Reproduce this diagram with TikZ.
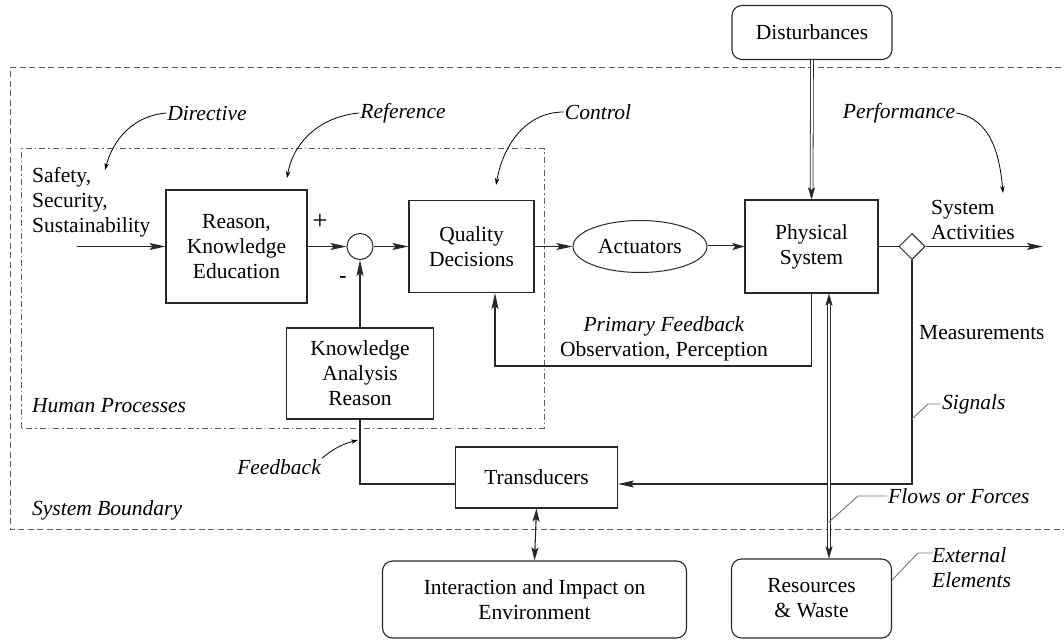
\documentclass[tikz,border=0pt]{standalone}
\usepackage{fontspec}
\setmainfont{Liberation Serif}
\usetikzlibrary{positioning}
\usetikzlibrary{arrows.meta}
\usetikzlibrary{shapes.geometric}
\usetikzlibrary{decorations.markings}
\tikzset{block/.style={draw=mline, line width=1.1pt, align=center, inner sep=2pt}}
\definecolor{mline}{RGB}{40,40,40}
\definecolor{mframe}{RGB}{95,95,95}

\begin{document}
\begin{tikzpicture}[x=1pt, y=1pt, node distance=100pt,
    font=\fontsize{21.5}{25}\selectfont,
    rbox/.style={block, rounded corners=10pt},
    sumnode/.style={draw=mline, circle, line width=1pt, minimum size=26pt, inner sep=0pt},
    splitnode/.style={draw=mline, diamond, line width=1pt, minimum size=26pt, inner sep=0pt},
    actnode/.style={draw=mline, ellipse, line width=1pt, minimum width=134pt, minimum height=52pt, inner sep=0pt},
    note/.style={inner sep=1pt, font=\fontsize{21.5}{25}\selectfont\itshape},
    plain_note/.style={inner sep=1pt, align=left},
    line_main/.style={line width=1.1pt, draw=mline},
    arrow_main/.style={line_main, -{Stealth[length=16pt, width=7pt, inset=3pt]}},
    arrow_both/.style={line_main, {Stealth[length=13pt, width=7pt, inset=2.5pt]}-{Stealth[length=13pt, width=7pt, inset=2.5pt]}},
    double_line/.style={draw=mline, line width=0.8pt, double=white, double distance=2pt},
    arrow_double/.style={double_line, shorten >=9pt},
    arrow_double_both/.style={double_line, shorten >=9pt, shorten <=9pt},
    tip_end/.style={postaction={decorate, decoration={markings,
        mark=at position 1 with {\arrow[mline]{Stealth[length=12pt, width=7pt, inset=2.5pt]}}}}},
    tip_both/.style={postaction={decorate, decoration={markings,
        mark=at position 0 with {\arrowreversed[mline]{Stealth[length=12pt, width=7pt, inset=2.5pt]}},
        mark=at position 1 with {\arrow[mline]{Stealth[length=12pt, width=7pt, inset=2.5pt]}}}}},
    arrow_label/.style={line width=0.8pt, -{Stealth[length=7pt, width=4.5pt]}},
    leader/.style={draw=black!55, line width=0.9pt},
    boundary/.style={draw=mframe, line width=1pt, dash pattern=on 6pt off 3.5pt},
    human/.style={draw=mframe, line width=1pt, dash pattern=on 6pt off 3pt on 1.5pt off 3pt},
]
\useasboundingbox (0,0) rectangle (1064,641);

% frames
\draw[boundary] (1080,573) -- (10,573) -- (10,112) -- (1080,112);
\draw[human] (21,213) rectangle (544,492);

% main loop
\node[block, minimum width=141pt, minimum height=113pt] (reason) at (236.5,394.5) {Reason,\\Knowledge\\Education};
\node[sumnode, right of=reason, xshift=23.5pt] (sum) {};
\node[block, minimum width=125pt, minimum height=92pt, right of=sum, xshift=11.5pt] (quality) {Quality\\Decisions};
\node[actnode, right of=quality, xshift=68.5pt] (act) {Actuators};
\node[block, minimum width=133pt, minimum height=93pt, right of=act, xshift=71.5pt] (phys) {Physical\\System};
\node[splitnode, right of=phys, xshift=.5pt] (split) {};
\node[rbox, minimum width=160pt, minimum height=54pt, above of=phys, xshift=.5pt, yshift=114pt] (dist) {Disturbances};

\node[block, minimum width=147pt, minimum height=91pt, below of=sum, yshift=-27pt] (knowledge) {Knowledge\\Analysis\\Reason};
\node[block, minimum width=162pt, minimum height=61pt, below of=knowledge, xshift=176.5pt, yshift=-4pt] (trans) {Transducers};
\node[rbox, minimum width=304pt, minimum height=77pt, below of=trans, xshift=-2pt, yshift=-22pt] (impact) {Interaction and Impact on\\Environment};
\node[rbox, minimum width=160pt, minimum height=79pt, right of=impact, xshift=177pt, yshift=1pt] (resources) {Resources\\\&~Waste};

% texts
\node[plain_note, anchor=west] (safety) at (31,439) {Safety,\\Security,\\Sustainability};
\node[inner sep=0pt, font=\fontsize{27}{27}\selectfont] (plus) at (320,419) {+};
\node[inner sep=0pt, font=\fontsize{21.5}{25}\selectfont\bfseries] (minus) at (343,361) {-};
\node[plain_note, anchor=west] (sysact) at (930,421.5) {System\\Activities};
\node[plain_note, align=center] (primary) at (664,302) {\textit{Primary Feedback}\\Observation, Perception};
\node[plain_note, anchor=west] (meas) at (918,308) {Measurements};

\node[note] (directive) at (207,528) {Directive};
\node[note] (reference) at (403,528) {Reference};
\node[note] (control) at (598,529) {Control};
\node[note] (performance) at (899,528) {Performance};
\node[note, anchor=east] (feedback) at (322,174) {Feedback};
\node[note, anchor=west] (human) at (31,235) {Human Processes};
\node[note, anchor=west] (sysbound) at (31,131) {System Boundary};
\node[note, anchor=west] (signals) at (941,237) {Signals};
\node[note, anchor=west] (flows) at (887,145) {Flows or Forces};
\node[note, anchor=west, align=left] (external) at (931,73) {External\\Elements};

\coordinate (input) at (77,394.5);
\coordinate (output) at (1043,394.5);

% forward path
\draw[arrow_main] (input) -- (reason.west);
\draw[arrow_main] (reason.east) -- (sum.west);
\draw[arrow_main] (sum.east) -- (quality.west);
\draw[arrow_main] (quality.east) -- (act.west);
\draw[arrow_double] (act.east) -- (phys.west);
\path[tip_end] (act.east) -- (phys.west);
\draw[arrow_double] (dist.south) -- (phys.north);
\path[tip_end] (dist.south) -- (phys.north);
\draw[line_main] (phys.east) -- (split.west);
\draw[arrow_main] (split.east) -- (output);

% feedback paths
\draw[arrow_main] (knowledge.north) -- (sum.south);
\coordinate (pf_corner) at (495,275);
\draw[arrow_main] (phys.south) |- (pf_corner) -- (pf_corner |- quality.south);
\coordinate (trans_in) at ([yshift=-6.5pt]trans.east);
\draw[arrow_main] (split.south) |- (trans_in);
\draw[line_main] (trans_in -| trans.west) -| (knowledge.south);
\draw[arrow_both] (trans.south) -- (impact.north);
\coordinate (flow_top) at ([xshift=17.5pt]phys.south);
\draw[arrow_double_both] (flow_top) -- (flow_top |- resources.north);
\path[tip_both] (flow_top) -- (flow_top |- resources.north);

% label arrows
\coordinate (directive_tip) at (105,471);
\coordinate (reference_tip) at (287,463);
\coordinate (control_tip) at (496,456);
\coordinate (performance_tip) at (1003,448);
\coordinate (feedback_tip) at (358,201);
\draw[arrow_label] (directive.west) to[out=185, in=75] (directive_tip);
\draw[arrow_label] (reference.west) to[out=185, in=80] (reference_tip);
\draw[arrow_label] (control.west) to[out=180, in=80] (control_tip);
\draw[arrow_label] (performance.east) to[out=-10, in=95] (performance_tip);
\draw[arrow_label] (feedback.north east) to[out=40, in=195] (feedback_tip);

% leaders
\coordinate (sig_a) at (912,222);
\coordinate (sig_b) at (928,237);
\draw[leader] (sig_a) -- (sig_b) -- (signals.west);
\coordinate (flow_a) at (829,119);
\coordinate (flow_b) at (858,145);
\draw[leader] (flow_a) -- (flow_b) -- (flows.west);
\coordinate (ext_a) at ([yshift=18.5pt]resources.east);
\coordinate (ext_b) at (918,88);
\coordinate (ext_c) at (933,88);
\draw[leader] (ext_a) -- (ext_b) -- (ext_c);

\end{tikzpicture}
\end{document}
